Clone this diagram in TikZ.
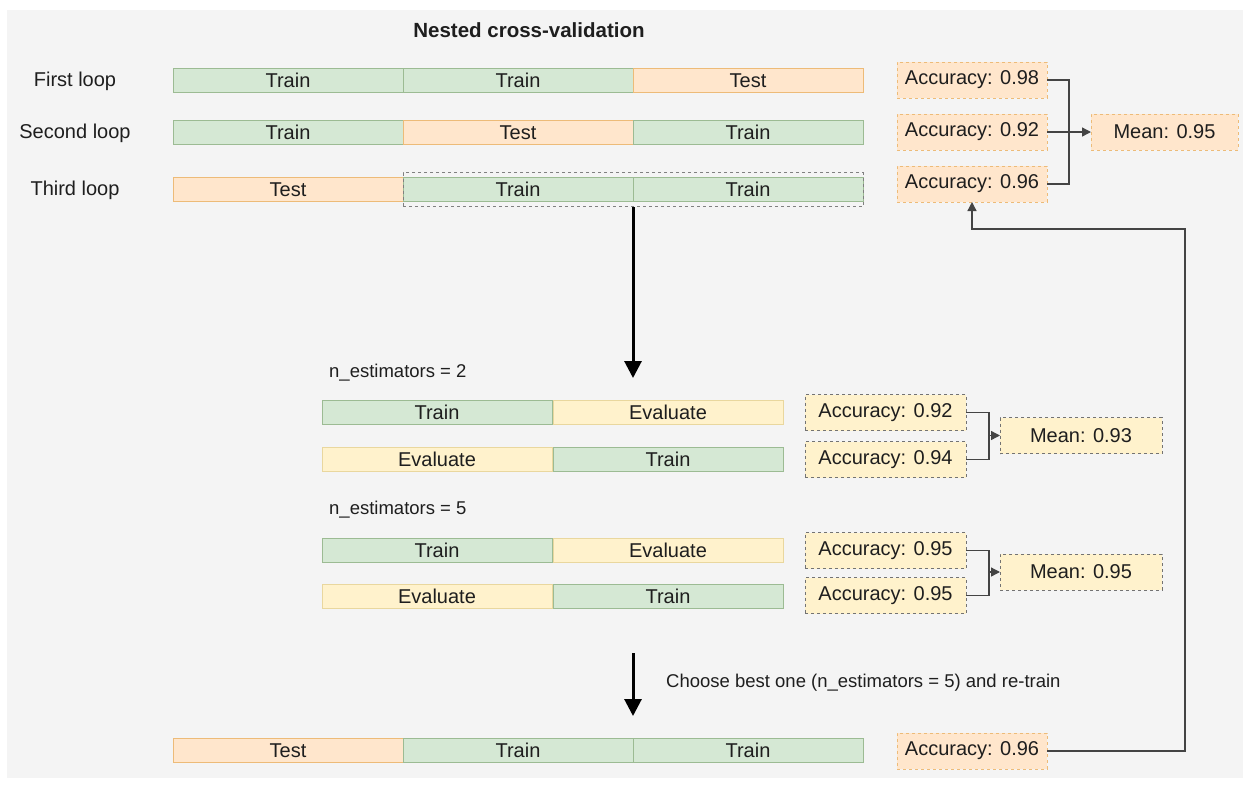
\documentclass[tikz,border=0pt]{standalone}
\usepackage{fontspec}
\setmainfont{Liberation Sans}
\usetikzlibrary{arrows.meta,fit}
\definecolor{bg}{HTML}{F4F4F4}
\definecolor{grn}{HTML}{D5E8D4}
\definecolor{grnb}{HTML}{9CBB93}
\definecolor{org}{HTML}{FFE6CC}
\definecolor{orgb}{HTML}{EDBB78}
\definecolor{ylw}{HTML}{FFF2CC}
\definecolor{ylwb}{HTML}{E9D79E}
\definecolor{ink}{HTML}{1E1E1E}
\definecolor{edge}{HTML}{444444}
\begin{document}
\begin{tikzpicture}[x=1pt,y=-1pt,
  txt/.style={font=\fontsize{20}{24}\selectfont, text=ink},
  cell/.style={txt, minimum width=230pt, minimum height=24pt, inner sep=0pt, outer sep=0pt, line width=1pt},
  train/.style={cell, fill=grn, draw=grnb},
  test/.style={cell, fill=org, draw=orgb},
  evalc/.style={cell, fill=ylw, draw=ylwb},
  dbox/.style={txt, minimum height=36pt, inner sep=0pt, outer sep=0pt, line width=1pt, dash pattern=on 3pt off 3pt},
  accO/.style={dbox, fill=org, draw=orgb, minimum width=150pt},
  accY/.style={dbox, fill=ylw, draw=gray!90!black, minimum width=161pt},
  meanY/.style={dbox, fill=ylw, draw=gray!90!black, minimum width=162pt},
  loopname/.style={txt},
  conn/.style={draw=edge, line width=1.3pt},
  tip/.style={-{Triangle[length=9pt,width=9pt]}},
  bigarrow/.style={draw=black, line width=3pt, -{Triangle[length=17pt,width=17pt]}},
  note/.style={font=\fontsize{18.5}{22}\selectfont, text=ink, inner sep=0pt}
]
\useasboundingbox (0,0) rectangle (1243,785);
\fill[white] (0,0) rectangle (1243,785);
\fill[bg] (7,10) rectangle (1243,778);

% title
\node[txt, font=\fontsize{20.5}{24}\selectfont\bfseries] (title) at (529,30) {Nested cross-validation};

% outer loop labels
\node[loopname] (l1) at (75,81) {First loop};
\node[loopname] (l2) at (75,133) {Second loop};
\node[loopname] (l3) at (75,190) {Third loop};

% outer folds
\node[train] (c11) at (288,80.5) {Train};
\node[train] (c12) at (518,80.5) {Train};
\node[test]  (c13) at (748,80.5) {Test};
\node[train] (c21) at (288,132.5) {Train};
\node[test]  (c22) at (518,132.5) {Test};
\node[train] (c23) at (748,132.5) {Train};
\node[test]  (c31) at (288,189.5) {Test};
\node[train] (c32) at (518,189.5) {Train};
\node[train] (c33) at (748,189.5) {Train};
\node[fit=(c32)(c33), draw=gray, line width=1pt, dash pattern=on 3pt off 3pt, inner xsep=0pt, inner ysep=5pt] (grp) {};

% outer scores
\node[accO] (a1) at (972,80) {Accuracy: 0.98};
\node[accO] (a2) at (972,132) {Accuracy: 0.92};
\node[accO] (a3) at (972,184) {Accuracy: 0.96};
\node[accO, minimum width=147pt] (m0) at (1164.5,132) {Mean: 0.95};
\draw[conn] (a1.east) -- ++(22,0) |- (a3.east);
\draw[conn, tip] (a2.east) -- (m0.west);

% into the inner loop
\coordinate (d1) at (633,378);
\draw[bigarrow] (grp.south) -- (d1);

% inner search, n_estimators = 2
\node[note, anchor=west] (n2) at (329,373) {n\_estimators = 2};
\node[train] (e11) at (437,412.5) {Train};
\node[evalc] (e12) at (668,412.5) {Evaluate};
\node[evalc] (e21) at (437,459) {Evaluate};
\node[train] (e22) at (668,459) {Train};
\node[accY] (b1) at (885.5,412.5) {Accuracy: 0.92};
\node[accY] (b2) at (885.5,459.5) {Accuracy: 0.94};
\node[meanY] (mb1) at (1081,435.5) {Mean: 0.93};
\draw[conn] (b1.east) -- ++(23,0) |- (b2.east);
\coordinate (j1) at (989,435.5);
\draw[conn, tip] (j1) -- (mb1.west);

% inner search, n_estimators = 5
\node[note, anchor=west] (n5) at (329,510) {n\_estimators = 5};
\node[train] (f11) at (437,550.5) {Train};
\node[evalc] (f12) at (668,550.5) {Evaluate};
\node[evalc] (f21) at (437,596) {Evaluate};
\node[train] (f22) at (668,596) {Train};
\node[accY] (g1) at (885.5,550.5) {Accuracy: 0.95};
\node[accY] (g2) at (885.5,595.5) {Accuracy: 0.95};
\node[meanY] (mg1) at (1081,572) {Mean: 0.95};
\draw[conn] (g1.east) -- ++(23,0) |- (g2.east);
\coordinate (j2) at (989,572);
\draw[conn, tip] (j2) -- (mg1.west);

% re-train with the best setting
\coordinate (s1) at (633,653);
\coordinate (s2) at (633,716);
\draw[bigarrow] (s1) -- (s2);
\node[note, anchor=west] (pick) at (666,683) {Choose best one (n\_estimators = 5) and re-train};
\node[test]  (h1) at (288,750.5) {Test};
\node[train] (h2) at (518,750.5) {Train};
\node[train] (h3) at (748,750.5) {Train};
\node[accO] (af) at (972,751) {Accuracy: 0.96};

% score feeds back to the third loop
\coordinate (lp) at (1185,229);
\draw[conn, tip] (af.east) -| (lp) -| (a3.south);
\end{tikzpicture}
\end{document}
